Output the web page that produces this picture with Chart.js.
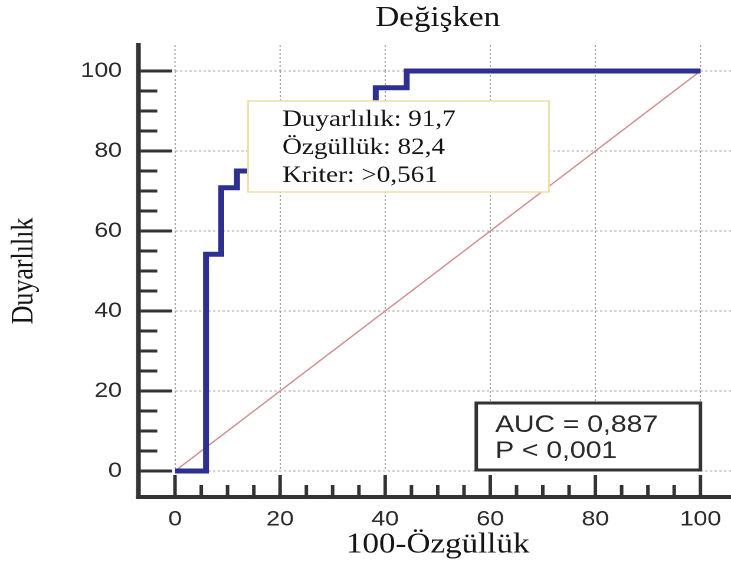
<!DOCTYPE html>
<html>
<head>
<meta charset="utf-8">
<script src="https://cdn.jsdelivr.net/npm/chart.js@4"></script>
<style>
	html, body { margin: 0; padding: 0; background: #fff; overflow: hidden; }
	/* the original picture is stretched sideways, so is this one */
	#wrap { width: 620px; height: 574px; transform: scaleX(1.18); transform-origin: 0 0; }
</style>
</head>
<body>
<div id="wrap"><canvas id="myChart" width="620" height="574"></canvas></div>
<script>
//data --- ROC curve (100-specificity, sensitivity)

var fpr = [0, 5.9, 8.8, 11.8, 14.7, 17.6, 38.2, 44.1, 100];
var tpr = [0, 54.2, 70.8, 75.0, 83.3, 91.7, 95.8, 100, 100];
var refLine = [0, 100];
var majorTicks = [0, 20, 40, 60, 80, 100];
var minorTicks = [5, 10, 15, 25, 30, 35, 45, 50, 55, 65, 70, 75, 85, 90, 95];
var infoLines = ['Duyarlılık: 91,7', 'Özgüllük: 82,4', 'Kriter: >0,561'];
var aucLines = ['AUC = 0,887', 'P < 0,001'];

var serif = 'Liberation Serif';
var sans = 'Liberation Sans';
var gridColor = '#a6a6a6';

//axes away from the plot, grid past 100, text boxes

var frame = {
	id: 'frame',
	beforeDatasetsDraw: function (chart) {
		var ctx = chart.ctx, xs = chart.scales.x, ys = chart.scales.y, area = chart.chartArea;
		var top = ys.getPixelForValue(106.5);
		ctx.save();
		ctx.strokeStyle = gridColor;
		ctx.lineWidth = 1;
		ctx.setLineDash([2, 2]);
		majorTicks.forEach(function (v) {
			var px = xs.getPixelForValue(v);
			ctx.beginPath(); ctx.moveTo(px, area.top); ctx.lineTo(px, top); ctx.stroke();
			var py = ys.getPixelForValue(v);
			ctx.beginPath(); ctx.moveTo(area.right, py); ctx.lineTo(chart.width, py); ctx.stroke();
		});
		ctx.restore();
	},
	afterDatasetsDraw: function (chart) {
		var ctx = chart.ctx, xs = chart.scales.x, ys = chart.scales.y, area = chart.chartArea;
		var axisX = area.left - 31, axisY = area.bottom + 26;
		ctx.save();
		ctx.setLineDash([]);
		ctx.strokeStyle = '#333';
		ctx.lineWidth = 4;
		ctx.beginPath(); ctx.moveTo(axisX, ys.getPixelForValue(107)); ctx.lineTo(axisX, axisY + 2); ctx.stroke();
		ctx.beginPath(); ctx.moveTo(axisX - 2, axisY); ctx.lineTo(chart.width, axisY); ctx.stroke();

		ctx.lineWidth = 3;
		majorTicks.forEach(function (v) {
			var py = ys.getPixelForValue(v);
			ctx.beginPath(); ctx.moveTo(axisX, py); ctx.lineTo(area.left - 2.5, py); ctx.stroke();
			var px = xs.getPixelForValue(v);
			ctx.beginPath(); ctx.moveTo(px, axisY); ctx.lineTo(px, area.bottom + 4); ctx.stroke();
		});
		minorTicks.forEach(function (v) {
			var py = ys.getPixelForValue(v);
			ctx.beginPath(); ctx.moveTo(axisX, py); ctx.lineTo(axisX + 16, py); ctx.stroke();
			var px = xs.getPixelForValue(v);
			ctx.beginPath(); ctx.moveTo(px, axisY); ctx.lineTo(px, axisY - 12); ctx.stroke();
		});

		// cut-off box
		var bx = xs.getPixelForValue(13.9), by = ys.getPixelForValue(92.5);
		ctx.fillStyle = '#fff';
		ctx.fillRect(bx, by, 255, 91);
		ctx.strokeStyle = '#eedfa6';
		ctx.lineWidth = 1.5;
		ctx.strokeRect(bx, by, 255, 91);
		ctx.fillStyle = '#151515';
		ctx.font = '23px "' + serif + '"';
		ctx.textAlign = 'left';
		ctx.textBaseline = 'alphabetic';
		infoLines.forEach(function (t, i) {
			ctx.fillText(t, bx + 29, by + 25 + i * 28);
		});

		// AUC box
		var ax = xs.getPixelForValue(100) - 190, ay = ys.getPixelForValue(0) - 68;
		ctx.fillStyle = '#fff';
		ctx.fillRect(ax, ay, 190, 67);
		ctx.strokeStyle = '#333';
		ctx.lineWidth = 3;
		ctx.strokeRect(ax, ay, 190, 67);
		ctx.fillStyle = '#2a2a2a';
		ctx.font = '24px "' + sans + '"';
		aucLines.forEach(function (t, i) {
			ctx.fillText(t, ax + 16, ay + 29 + i * 26);
		});
		ctx.restore();
	}
};

//chart configuration

var ctx = document.getElementById('myChart').getContext('2d');
var chart = new Chart(ctx, {
	type: 'line',
	data: {
		datasets: [{
			label: 'ROC',
			data: fpr.map(function (v, i) { return { x: v, y: tpr[i] }; }),
			stepped: true,
			borderColor: '#2d2f91',
			borderWidth: 5,
			borderJoinStyle: 'miter',
			pointRadius: 0,
			fill: false,
			clip: false
		},
		{
			label: 'ref',
			data: refLine.map(function (v) { return { x: v, y: v }; }),
			borderColor: '#cf8b8b',
			borderWidth: 1.2,
			pointRadius: 0,
			fill: false,
			clip: false
		}]
	},
	options: {
		responsive: false,
		devicePixelRatio: 2,
		animation: false,
		layout: { padding: { top: 0, right: 26.4, bottom: 0, left: 0 } },
		plugins: {
			legend: { display: false },
			tooltip: { enabled: false },
			title: {
				display: true,
				text: 'Değişken',
				fullSize: false,
				color: '#151515',
				font: { family: serif, size: 28, weight: 'normal', lineHeight: 1.2 },
				padding: { top: 2, bottom: 35.4 }
			}
		},
		scales: {
			x: {
				type: 'linear',
				min: 0,
				max: 100,
				afterBuildTicks: function (s) { s.ticks = majorTicks.map(function (v) { return { value: v }; }); },
				afterFit: function (s) { s.height = 103; s.paddingLeft = 0; s.paddingRight = 0; },
				grid: { color: gridColor, lineWidth: 1, drawTicks: false },
				border: { display: false, dash: [2, 2] },
				ticks: { padding: 36, color: '#2a2a2a', font: { family: sans, size: 21 } },
				title: {
					display: true,
					text: '100-Özgüllük',
					color: '#151515',
					font: { family: serif, size: 28, lineHeight: 1.2 },
					padding: { top: 0, bottom: 12 }
				}
			},
			y: {
				type: 'linear',
				min: 0,
				max: 100,
				afterBuildTicks: function (s) { s.ticks = majorTicks.map(function (v) { return { value: v }; }); },
				afterFit: function (s) { s.width = 148.3; s.paddingTop = 0; s.paddingBottom = 0; },
				grid: { color: gridColor, lineWidth: 1, drawTicks: false },
				border: { display: false, dash: [2, 2] },
				ticks: { padding: 45, color: '#2a2a2a', font: { family: sans, size: 21 } },
				title: {
					display: true,
					text: 'Duyarlılık',
					color: '#151515',
					font: { family: serif, size: 26, lineHeight: 1.2 },
					padding: { top: 5, bottom: 0 }
				}
			}
		}
	},
	plugins: [frame]
});
</script>
</body>
</html>
